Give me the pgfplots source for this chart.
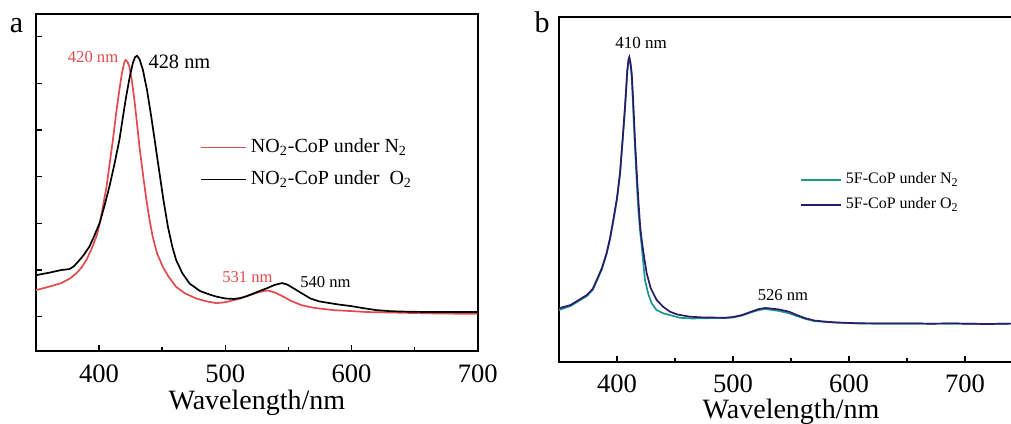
\documentclass[border=0pt]{standalone}
\usepackage{fontspec}
\setmainfont{Liberation Serif}
\usepackage{pgfplots}
\pgfplotsset{compat=1.18}

\definecolor{nred}{HTML}{E24A4D}
\definecolor{nteal}{HTML}{1B9A8C}
\definecolor{npurple}{HTML}{2C1A6A}

\pgfplotsset{
  spec/.style={
    scale only axis, anchor=south west,
    axis line style={line width=1pt},
    tick align=inside, tick pos=left,
    major tick length=3pt, minor tick length=2pt,
    every tick/.style={black, line width=0.8pt},
    xtick={400,500,600,700}, minor x tick num=1,
    ticklabel style={font=\fontsize{13.3}{15}\selectfont},
    xticklabel style={anchor=base, yshift=-15.5pt},
    /pgf/number format/assume math mode=true,
    xlabel={Wavelength/nm},
    xlabel style={font=\fontsize{14}{16}\selectfont, at={(axis description cs:0.5,0)}, anchor=base, yshift=-29.2pt},
    legend cell align=left,
  },
}

\begin{document}
\begin{tikzpicture}
\useasboundingbox (0,0) rectangle (505.5pt,211.5pt);

\node[anchor=base, font=\fontsize{15}{17}\selectfont] at (8.25pt,195pt) {a};
\node[anchor=base, font=\fontsize{15}{17}\selectfont] at (271pt,195pt) {b};

% panel a
\begin{axis}[spec,
  at={(18pt,36pt)}, width=220.85pt, height=168.5pt,
  xmin=350, xmax=700, ymin=-0.735, ymax=6.486,
  ytick={0,1,2,3,4,5,6}, yticklabels={},
  legend style={draw=none, fill=none, at={(axis description cs:0.371,0.556)}, anchor=west,
    inner sep=0pt, row sep=6.5pt, font=\fontsize{10}{12}\selectfont,
    nodes={inner ysep=0pt, text height=7pt, text depth=2.5pt}},
  legend image code/.code={\draw[line width=0.85pt, #1] (0pt,0pt) -- (22.5pt,0pt);},
]
\addplot[nred, line width=0.85pt] coordinates {
(350,0.57) (360,0.64) (370,0.72) (377,0.82) (382,0.93) (386,1.05) (390,1.22)
(394,1.45) (398,1.73) (401,2.05) (403,2.36) (406,2.8) (408,3.21) (411,3.8)
(413.5,4.36) (416,4.85) (418,5.2) (420,5.45) (421,5.5) (422.5,5.46) (424,5.36)
(426,5.05) (428,4.64) (430,4.15) (432,3.64) (435,3.0) (437.5,2.5) (440,2.07)
(442.5,1.71) (446,1.35) (450.5,1.07) (455,0.86) (461,0.64) (468,0.50) (477,0.39)
(485,0.33) (493,0.29) (500,0.31) (506,0.35) (512,0.39) (518,0.45) (525,0.51)
(530,0.55) (534,0.56) (540,0.51) (546,0.43) (552,0.34) (560,0.25) (570,0.19)
(586,0.14) (600,0.12) (612,0.10) (630,0.09) (665,0.07) (700,0.06)
};
\addlegendentry{NO\textsubscript{2}-CoP under N\textsubscript{2}}
\addplot[black, line width=0.85pt] coordinates {
(350,0.89) (360,0.94) (370,1.0) (376.5,1.02) (380,1.08) (384.4,1.21) (388,1.33)
(392.3,1.5) (396,1.72) (400.3,2.0) (404,2.35) (408.2,2.79) (412,3.25) (416.1,3.79)
(419,4.3) (421.4,4.71) (424,5.1) (426.7,5.43) (428.5,5.56) (430,5.59) (432,5.52)
(434.7,5.29) (438,4.85) (441.3,4.29) (444.5,3.7) (447.9,3.07) (451,2.5) (454.5,1.93)
(458,1.5) (461.1,1.21) (466,0.93) (471.7,0.71) (480,0.55) (487,0.48) (493,0.43)
(500,0.39) (506.6,0.38) (512,0.40) (517,0.44) (522.5,0.50) (528,0.56) (533,0.61)
(539,0.68) (545,0.72) (549,0.69) (554,0.61) (560,0.51) (567.5,0.39) (574,0.33)
(580.7,0.30) (590,0.26) (599,0.23) (610,0.18) (620,0.14) (630,0.12) (640,0.11)
(660,0.10) (680,0.10) (700,0.10)
};
\addlegendentry{NO\textsubscript{2}-CoP under\ \ O\textsubscript{2}}
\node[nred, font=\fontsize{8.3}{10}\selectfont] at (axis cs:395.2,5.56) {420 nm};
\node[anchor=west, inner sep=0pt, font=\fontsize{10.2}{12}\selectfont] at (axis cs:438.9,5.46) {428 nm};
\node[nred, font=\fontsize{8.3}{10}\selectfont] at (axis cs:517.5,0.85) {531 nm};
\node[font=\fontsize{8.3}{10}\selectfont] at (axis cs:579.4,0.74) {540 nm};
\end{axis}

% panel b
\begin{axis}[spec,
  at={(279.5pt,30.5pt)}, width=232pt, height=172.5pt,
  xmin=350, xmax=750, ymin=0, ymax=345,
  ytick=\empty,
  xticklabel style={yshift=0.5pt},
  xlabel style={yshift=1.2pt},
  legend style={draw=none, fill=none, at={(axis description cs:0.519,0.491)}, anchor=west,
    inner sep=0pt, row sep=4.9pt, font=\fontsize{8}{10}\selectfont,
    nodes={inner ysep=0pt, text height=5.6pt, text depth=2pt}},
  legend image code/.code={\draw[line width=0.85pt, #1] (0pt,0pt) -- (20pt,0pt);},
]
\addplot[nteal, line width=0.85pt] coordinates {
(350,52) (360,56) (367,61) (374,66) (379,72) (382.5,81) (387,93) (391,108)
(394,123) (396.8,141) (400,163) (402.6,188) (405,224) (406.9,254) (408.9,291)
(410,302) (410.6,304) (411.5,299) (412.7,285) (414,252) (415.5,215) (417,180)
(418.4,152) (420,130) (421.3,115.3) (424.1,82) (427,68) (429.9,58.7) (434,52)
(439.9,48.7) (447,46.5) (454.3,44.2) (465,43.5) (475,43.8) (493.7,44) (500,44.5)
(508,46.5) (515,49.5) (522.4,52) (528,53) (531,52.5) (540,51) (548.3,48.7)
(555,46) (562.6,43) (570,41) (580,40) (590,39.3) (608.6,38.6) (630,38.5)
(650,38.6) (670,38.3) (690,38.5) (700,38.3) (720,38) (740,38.4) (750,38)
};
\addlegendentry{5F-CoP under N\textsubscript{2}}
\addplot[npurple, line width=0.85pt] coordinates {
(350,53.7) (360,57) (367,62) (374,67) (379,73) (382.5,82) (387,94) (391,108.7)
(394,124) (396.8,142) (400,164) (402.6,188.7) (405,225) (406.9,255) (408.9,292)
(410,303) (410.6,305) (411.5,300) (412.7,288.7) (414,260) (415.5,222) (417,190)
(418.4,162) (420,135) (421.3,122) (423.5,104) (425.6,88.7) (429,74) (434.2,62)
(440,55) (445.7,50.3) (452,47.5) (462.9,45.3) (475,44.5) (493.7,44.3) (500,45)
(508,47) (515,50) (522.4,53) (528,54) (531,53.7) (540,52.5) (548.3,50.3)
(555,47) (562.6,43.7) (570,41.5) (579.9,40.3) (590,39.5) (608.6,38.7) (630,38.5)
(650,38.6) (670,38.3) (690,38.5) (700,38.3) (720,38) (740,38.4) (750,38)
};
\addlegendentry{5F-CoP under O\textsubscript{2}}
\node[font=\fontsize{8.5}{10}\selectfont] at (axis cs:420.7,319) {410 nm};
\node[font=\fontsize{8.3}{10}\selectfont] at (axis cs:543.1,67) {526 nm};
\end{axis}
\end{tikzpicture}
\end{document}
